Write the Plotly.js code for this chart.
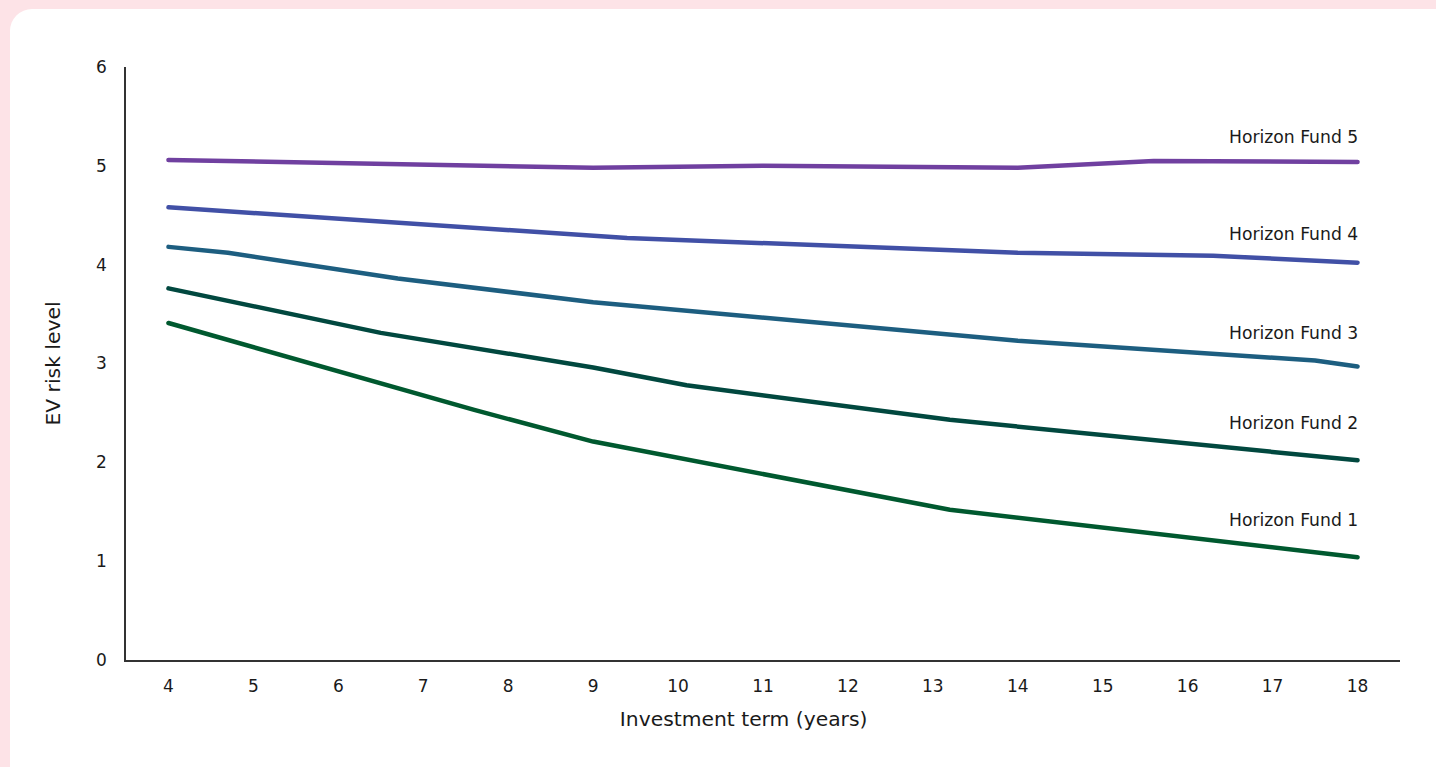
<!DOCTYPE html>
<html>
<head>
<meta charset="utf-8">
<script src="https://cdn.plot.ly/plotly-3.0.1.min.js"></script>
<style>
  html, body { margin:0; padding:0; width:1436px; height:767px; overflow:hidden; background:#fde3e7; }
  #card { position:absolute; left:10px; top:9px; width:1460px; height:800px; background:#ffffff; border-radius:22px; }
  #chart { position:absolute; left:0; top:0; width:1436px; height:767px; }
  .js-line { stroke-linecap: round; stroke-linejoin: round; }
</style>
</head>
<body>
<div id="card"></div>
<div id="chart"></div>
<script>
// Data
const fundNames = ["Horizon Fund 1", "Horizon Fund 2", "Horizon Fund 3", "Horizon Fund 4", "Horizon Fund 5"];
const fund1X = [4, 7.6, 9, 13.2, 18];
const fund1Y = [3.41, 2.53, 2.21, 1.52, 1.04];
const fund2X = [4, 6.5, 9, 10.1, 13.2, 18];
const fund2Y = [3.76, 3.31, 2.96, 2.78, 2.43, 2.02];
const fund3X = [4, 4.7, 6.7, 9, 14, 17.5, 18];
const fund3Y = [4.18, 4.12, 3.86, 3.62, 3.23, 3.03, 2.97];
const fund4X = [4, 9.4, 14, 16.3, 18];
const fund4Y = [4.58, 4.27, 4.12, 4.09, 4.02];
const fund5X = [4, 9, 11, 14, 15.6, 18];
const fund5Y = [5.06, 4.98, 5.00, 4.98, 5.05, 5.04];
const xTicks = [4, 5, 6, 7, 8, 9, 10, 11, 12, 13, 14, 15, 16, 17, 18];
const yTicks = [0, 1, 2, 3, 4, 5, 6];
const labelY = [1.42, 2.40, 3.31, 4.31, 5.29];

const colors = ["#00592f", "#01483f", "#1d5e80", "#4150a6", "#7040a0"];
const xs = [fund1X, fund2X, fund3X, fund4X, fund5X];
const ys = [fund1Y, fund2Y, fund3Y, fund4Y, fund5Y];

const font = "'DejaVu Sans', sans-serif";
const traces = fundNames.map((n, i) => ({
  type: "scatter", mode: "lines", name: n, x: xs[i], y: ys[i],
  line: { color: colors[i], width: 4.5 }, hoverinfo: "x+y+name"
}));

const annotations = fundNames.map((n, i) => ({
  x: 18, y: labelY[i], xref: "x", yref: "y", text: n, showarrow: false,
  xanchor: "right", yanchor: "middle", xshift: 2,
  font: { family: font, size: 17.2, color: "#1a1a1a" }
}));

const layout = {
  width: 1436, height: 767,
  paper_bgcolor: "rgba(0,0,0,0)", plot_bgcolor: "rgba(0,0,0,0)",
  margin: { l: 126, r: 36, t: 67, b: 107 },
  showlegend: false,
  font: { family: font, size: 17, color: "#1a1a1a" },
  xaxis: {
    range: [3.5, 18.5], tickvals: xTicks, ticktext: xTicks.map(String),
    showgrid: false, zeroline: false, showline: true, linecolor: "#333", linewidth: 1.5,
    ticks: "outside", ticklen: 10, tickcolor: "rgba(0,0,0,0)",
    tickfont: { family: font, size: 17, color: "#1a1a1a" },
    title: { text: "Investment term (years)&nbsp;&nbsp;&nbsp;&nbsp;&nbsp;&nbsp;", font: { family: font, size: 20.3, color: "#1a1a1a" }, standoff: 17 },
    automargin: false, fixedrange: true
  },
  yaxis: {
    range: [0, 6], tickvals: yTicks, ticktext: yTicks.map(String),
    showgrid: false, zeroline: false, showline: true, linecolor: "#333", linewidth: 1.5,
    ticks: "outside", ticklen: 14, tickcolor: "rgba(0,0,0,0)",
    tickfont: { family: font, size: 17, color: "#1a1a1a" },
    title: { text: "EV risk level", font: { family: font, size: 20.3, color: "#1a1a1a" }, standoff: 30 },
    automargin: false, fixedrange: true
  },
  annotations: annotations
};

Plotly.newPlot("chart", traces, layout, { displayModeBar: false });
</script>
</body>
</html>
